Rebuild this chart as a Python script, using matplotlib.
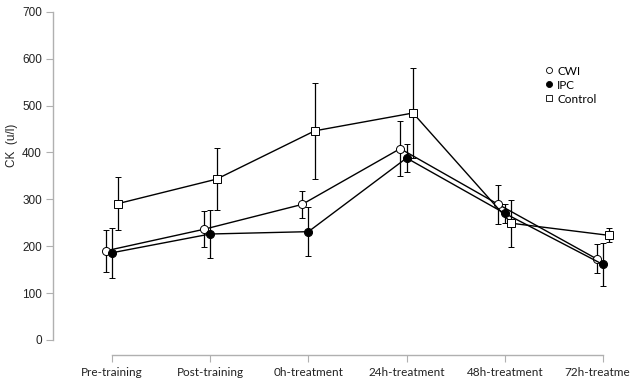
import numpy as np
import matplotlib.pyplot as plt

# data
timepoints = ["Pre-training", "Post-training", "0h-treatment", "24h-treatment", "48h-treatment", "72h-treatment"]
cwi = [190, 236, 289, 408, 289, 173]
cwi_err = [44, 38, 29, 58, 42, 31]
ipc = [186, 226, 231, 388, 270, 161]
ipc_err = [53, 51, 52, 29, 20, 45]
control = [291, 343, 446, 484, 249, 223]
control_err = [57, 66, 103, 96, 50, 15]

W, H = 630, 386
fig = plt.figure(figsize=(W / 100, H / 100), dpi=100)

# axes placement in pixels
x0_px, x5_px = 112, 603
unit = (x5_px - x0_px) / 5
left_px = 53
right_px = 630
xmin = -(x0_px - left_px) / unit
xmax = 5 + (right_px - x5_px) / unit
top_px, zero_px, spine_px = 11.7, 340, 355
yscale = (zero_px - top_px) / 700
ymin = -(spine_px - zero_px) / yscale

ax = fig.add_axes([left_px / W, (H - spine_px) / H, (right_px - left_px) / W, (spine_px - top_px) / H])
ax.set_xlim(xmin, xmax)
ax.set_ylim(ymin, 700)

x = np.arange(len(timepoints))
off = 0.065
gray = "#b0b0b0"

common = dict(color="black", lw=1.0, elinewidth=0.9, capsize=2.5, capthick=0.9, zorder=3)
ax.errorbar(x - off, cwi, yerr=cwi_err, marker="o", ms=5.8, mfc="white", mec="black", mew=0.7,
            label="CWI", **common)
ax.errorbar(x, ipc, yerr=ipc_err, marker="o", ms=5.8, mfc="black", mec="black", mew=0.7,
            label="IPC", **common)
ax.errorbar(x + off, control, yerr=control_err, marker="s", ms=5.3, mfc="white", mec="black", mew=0.7,
            label="Control", **common)

for s in ["top", "right"]:
    ax.spines[s].set_visible(False)
ax.spines["left"].set_bounds(0, 700)
ax.spines["bottom"].set_bounds(0, 5)
for s in ["left", "bottom"]:
    ax.spines[s].set_color(gray)
    ax.spines[s].set_linewidth(1.0)

ax.set_yticks(range(0, 701, 100))
ax.set_xticks(x)
ax.set_xticklabels(timepoints, fontfamily="Lato", fontsize=8.5, color="#222222")
ax.tick_params(axis="y", direction="out", length=5, color=gray, labelsize=8.5, labelcolor="#222222", pad=3)
ax.tick_params(axis="x", direction="out", length=5, color=gray, pad=4)
for lab in ax.get_yticklabels():
    lab.set_fontfamily("Liberation Sans")

fig.text(12 / W, 1 - 145 / H, "CK  (u/l)", rotation=90, ha="center", va="center",
         fontsize=8.5, fontfamily="Liberation Sans", color="#222222")

handles, labels = ax.get_legend_handles_labels()
handles = [h[0] for h in handles]
leg = ax.legend(handles, labels, loc="upper left", bbox_to_anchor=(534 / W, 1 - 55 / H),
                bbox_transform=fig.transFigure, frameon=False, handlelength=0.8, markerscale=0.75,
                handletextpad=0.25, labelspacing=0.25, prop={"family": "Lato", "size": 8.5})
for line in leg.get_lines():
    line.set_linestyle("none")
    line.set_markeredgewidth(0.6)

fig.savefig("out.png", dpi=100)
